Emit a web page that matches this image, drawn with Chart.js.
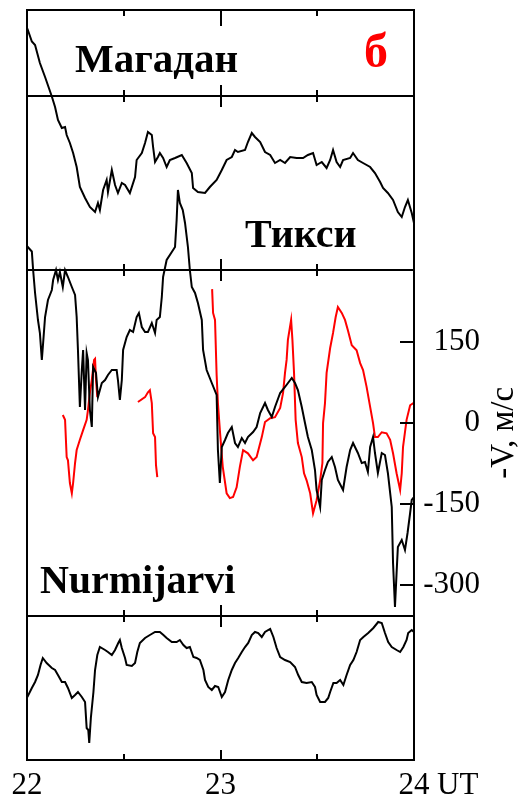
<!DOCTYPE html>
<html>
<head>
<meta charset="utf-8">
<script src="https://cdn.jsdelivr.net/npm/chart.js@4/dist/chart.umd.min.js"></script>
<style>
  html, body { margin: 0; padding: 0; background: #fff; }
  canvas { display: block; }
</style>
</head>
<body>
<canvas id="c" width="524" height="800"></canvas>
<script>
// Time axis: minutes after 22:00 UT
const hourTicks = [0, 60, 120];
const minorTicks = [30, 60, 90];
const velocityTicks = [-300, -150, 0, 150];

// Magnetogram traces (relative level, stacked)
const magadanT = [0.1,1.5,2.5,4.0,5.6,7.7,8.7,9.6,10.8,11.8,12.3,13.3,14.3,15.4,16.4,18.0,19.5,21.1,22.0,22.6,23.6,24.7,25.1,26.3,27.3,28.2,29.4,30.4,31.9,33.5,34.0,35.6,36.6,37.5,38.7,39.1,39.7,40.6,41.2,42.2,43.3,44.3,45.9,48.0,49.5,51.1,51.5,53.0,55.2,56.7,58.8,60.4,61.9,63.5,64.5,65.4,67.6,68.5,69.7,70.7,72.3,73.8,75.4,76.9,78.5,80.0,81.6,83.6,85.6,87.1,88.7,89.8,91.4,92.9,94.0,94.9,96.0,97.1,98.0,100.2,101.1,102.6,104.2,106.4,107.9,109.5,110.4,111.9,113.5,115.0,116.2,117.2,118.1,119.3,120.0];
const magadanH = [146.3,143.7,143.0,139.4,136.6,132.7,130.6,128.0,126.4,126.6,125.0,123.4,121.4,118.6,114.6,112.4,110.6,109.6,111.4,110.0,114.0,116.0,113.6,118.0,115.0,113.4,115.4,115.0,113.4,116.6,120.0,121.4,123.4,125.6,125.0,122.6,119.6,120.6,121.4,120.4,118.6,120.0,120.4,121.0,119.4,117.4,114.4,113.6,113.4,114.6,116.0,118.0,120.0,120.6,122.0,121.6,122.0,123.6,125.4,124.6,123.6,121.6,121.0,119.4,120.0,119.4,120.6,120.4,120.4,121.0,121.4,119.0,119.6,118.4,120.0,122.0,119.6,118.6,120.0,120.4,121.4,120.0,119.4,118.6,117.4,115.6,114.4,113.4,112.0,109.6,108.6,110.6,112.0,109.4,107.4];

const tiksiT = [0.1,1.5,1.9,2.5,3.4,4.0,4.6,5.0,5.6,6.5,7.7,8.1,9.0,9.6,10.2,11.1,11.8,12.7,13.9,14.9,15.4,15.8,16.4,17.0,17.4,18.0,18.5,18.9,19.5,20.1,20.5,21.4,22.0,23.2,24.2,25.1,26.3,27.8,28.2,28.8,29.4,29.8,30.9,31.9,32.9,34.0,34.7,35.6,36.6,37.5,38.7,39.7,40.2,41.2,41.8,42.2,43.3,44.9,45.9,46.4,46.8,47.4,48.3,49.0,49.9,50.5,51.1,52.1,53.0,54.2,54.6,55.7,57.3,58.8,59.2,59.8,60.4,61.4,62.3,63.5,64.5,65.4,66.6,67.6,68.5,70.1,71.2,72.3,73.8,74.7,75.9,76.9,78.5,80.0,82.1,83.1,84.0,85.2,86.2,87.1,88.3,89.3,89.8,90.9,91.4,92.4,93.3,94.5,95.5,96.4,98.0,99.1,100.2,101.1,102.6,103.8,104.8,105.7,106.4,107.3,107.9,108.8,110.0,111.0,111.9,113.1,113.5,114.1,114.6,115.0,116.2,117.2,118.0,118.8,119.3,120.0];
const tiksiH = [102.7,101.7,98.0,93.4,88.0,85.4,80.0,83.4,88.6,92.0,94.0,96.0,98.0,96.0,97.6,94.6,98.0,96.6,94.6,93.0,88.6,82.0,70.6,78.0,82.0,70.0,81.4,80.0,70.0,66.6,78.6,77.4,72.6,75.4,76.0,77.0,78.0,78.0,76.0,72.0,76.0,82.0,84.6,86.0,85.6,88.6,89.4,86.6,85.6,85.6,87.4,85.4,88.0,88.6,92.6,96.6,100.0,101.6,102.6,108.0,114.0,111.4,110.0,107.4,102.6,98.0,94.6,93.4,91.4,88.0,82.0,78.0,75.4,73.0,62.0,55.4,62.6,64.0,65.4,66.6,63.4,62.6,64.4,63.4,64.6,65.6,66.6,69.4,71.4,70.0,68.6,70.6,73.4,74.6,76.4,75.4,74.0,70.6,67.4,64.6,62.0,58.0,54.0,50.6,56.0,58.0,59.6,60.6,58.6,56.0,54.0,58.6,62.0,63.4,61.4,59.4,59.6,57.6,62.6,64.6,61.4,57.4,61.4,61.0,57.4,50.6,39.4,30.6,37.4,42.6,44.0,42.0,45.4,49.4,52.0,52.6];

const nurmijarviT = [0.1,1.5,2.5,3.4,4.2,4.9,6.1,7.7,8.7,9.6,10.8,11.8,12.7,13.9,14.9,15.8,17.0,18.0,18.5,19.0,19.3,19.8,20.6,21.1,21.8,22.6,24.2,25.1,26.3,27.3,28.3,28.8,29.4,30.4,30.9,32.5,33.5,34.2,35.0,36.6,38.1,39.7,41.2,42.3,43.3,44.9,46.4,47.4,48.5,49.5,50.5,51.6,52.6,53.6,54.7,55.2,56.2,57.3,58.3,59.3,60.4,61.4,62.4,63.5,64.5,65.5,66.6,67.6,68.6,69.7,70.7,71.7,72.8,73.8,75.4,76.4,77.4,78.5,80.0,81.6,83.1,84.1,85.2,86.7,88.3,89.3,89.8,90.9,92.4,93.4,94.0,95.0,96.0,97.1,98.1,99.1,100.2,101.2,102.2,103.3,104.3,105.8,107.4,108.9,110.0,111.0,112.0,113.1,114.6,115.7,116.7,117.7,118.2,119.3,120.0];
const nurmijarviH = [12.6,14.4,15.6,17.0,19.0,20.4,19.4,18.4,18.0,17.0,15.6,15.6,14.4,12.4,13.0,13.6,12.6,11.6,6.4,6.0,3.4,8.4,13.6,18.0,21.0,22.6,22.0,21.6,21.0,22.0,23.4,24.0,22.4,20.4,19.0,18.8,19.4,21.6,23.4,24.4,25.0,25.6,25.6,25.0,24.4,23.6,23.6,24.0,23.0,22.4,22.6,20.6,20.4,20.0,18.0,16.0,14.6,14.0,14.8,14.6,12.6,13.6,16.0,18.0,19.4,20.4,21.6,22.6,23.4,25.0,25.6,25.4,24.6,25.6,26.2,24.6,22.4,20.6,20.0,19.6,18.6,17.0,15.6,15.4,15.6,14.6,13.0,11.6,11.6,12.4,13.6,15.4,15.4,16.0,15.0,17.0,19.0,20.0,21.6,24.0,24.6,25.4,26.4,27.6,27.4,25.4,23.6,22.6,22.0,21.6,22.6,24.0,25.4,26.0,25.6];

// Radar drift velocity -V, m/s (null marks a data gap)
const velocityT = [11.1,11.8,12.3,12.7,13.3,13.9,14.3,14.9,15.4,16.4,17.4,18.5,18.9,19.5,20.1,20.8,21.1,21.4,21.8,
  28.0,
  34.4,36.6,37.5,38.1,38.7,39.1,39.7,40.0,40.4,
  49.0,
  57.4,57.7,58.3,58.8,59.2,59.8,60.7,61.9,62.9,63.9,65.0,66.0,67.0,68.5,70.1,71.2,72.8,73.8,75.4,76.9,78.5,79.4,80.0,80.5,80.9,81.9,82.3,82.8,83.3,84.0,85.2,85.9,86.7,87.8,88.7,89.8,90.9,91.6,91.8,92.4,92.9,94.0,94.9,95.7,96.4,97.6,98.6,99.5,100.7,102.2,103.3,104.2,105.3,106.4,107.3,107.9,108.8,110.0,111.5,112.6,113.5,114.6,115.7,116.2,116.6,117.7,118.8,119.8];
const velocityV = [15,6,-63,-69,-111,-130,-111,-74,-50,-31,-13,6,24,56,80,117,119,80,48,
  null,
  39,48,57,61,37,-19,-26,-78,-100,
  null,
  248,204,191,89,37,-13,-81,-130,-139,-137,-119,-81,-50,-56,-69,-63,-26,2,9,11,28,56,93,117,154,191,154,93,6,-37,-63,-93,-106,-130,-167,-143,-106,-74,0,37,93,139,167,196,215,204,191,172,144,135,111,98,67,30,0,-26,-26,-17,-19,-31,-56,-93,-124,-93,-44,6,33,37];

const SERIF = '"Liberation Serif", "Times New Roman", serif';

function points(ts, vs) {
  return ts.map((t, i) => ({ x: t, y: vs[i] }));
}

// Panel separators on the stacked level scale
const panelEdges = [132.8, 98.0, 28.8];

const framePlugin = {
  id: 'frame',
  afterDatasetsDraw(chart) {
    const { ctx, chartArea: a, scales } = chart;
    const xs = scales.x, yh = scales.yH, yv = scales.yV;
    ctx.save();
    ctx.strokeStyle = '#000';
    ctx.lineWidth = 2;
    ctx.lineCap = 'butt';
    // outer box
    ctx.strokeRect(a.left, a.top, a.right - a.left, a.bottom - a.top);
    // panel separators with crossing time ticks
    const seps = panelEdges.map(v => Math.round(yh.getPixelForValue(v)));
    ctx.beginPath();
    seps.forEach(y => {
      ctx.moveTo(a.left, y); ctx.lineTo(a.right, y);
      minorTicks.forEach(m => {
        const x = Math.round(xs.getPixelForValue(m));
        const h = m === 60 ? 11 : 6;
        ctx.moveTo(x, y - h); ctx.lineTo(x, y + h);
      });
    });
    // ticks on the top and bottom edges
    minorTicks.forEach(m => {
      const x = Math.round(xs.getPixelForValue(m));
      const h = m === 60 ? 16 : 6;
      ctx.moveTo(x, a.top); ctx.lineTo(x, a.top + h);
      const hb = m === 60 ? 10 : 6;
      ctx.moveTo(x, a.bottom); ctx.lineTo(x, a.bottom - hb);
    });
    // velocity ticks on the right edge, pointing inward
    velocityTicks.forEach(v => {
      const y = Math.round(yv.getPixelForValue(v));
      ctx.moveTo(a.right - 14, y); ctx.lineTo(a.right, y);
    });
    ctx.stroke();
    ctx.restore();
  },
  afterDraw(chart) {
    const { ctx, chartArea: a, scales } = chart;
    const xs = scales.x, yh = scales.yH, yv = scales.yV;
    ctx.save();
    ctx.fillStyle = '#000';
    ctx.textBaseline = 'alphabetic';
    ctx.textAlign = 'left';
    ctx.font = 'bold 41px ' + SERIF;
    ctx.fillText('Магадан', xs.getPixelForValue(14.9), yh.getPixelForValue(137.6));
    ctx.font = 'bold 40px ' + SERIF;
    ctx.fillText('Тикси', xs.getPixelForValue(67.6), yh.getPixelForValue(102.6));
    ctx.fillText('Nurmijarvi', xs.getPixelForValue(4.0), yh.getPixelForValue(33.4));
    ctx.fillStyle = '#ff0000';
    ctx.font = 'bold 48px ' + SERIF;
    ctx.fillText('б', xs.getPixelForValue(104.5), yh.getPixelForValue(138.6));
    // unit after the last hour label
    ctx.fillStyle = '#000';
    ctx.font = '31px ' + SERIF;
    ctx.textBaseline = 'middle';
    ctx.fillText('UT', a.right + 23, a.bottom + 26);
    // velocity axis title, reading upward
    ctx.save();
    ctx.font = '33px ' + SERIF;
    ctx.translate(a.right + 90, yv.getPixelForValue(-18));
    ctx.rotate(-Math.PI / 2);
    ctx.textAlign = 'center';
    ctx.fillText('-V, м/с', 0, 0);
    ctx.restore();
    ctx.restore();
  }
};

const lineStyle = { borderWidth: 2, pointRadius: 0, tension: 0, fill: false, spanGaps: false };

new Chart(document.getElementById('c'), {
  type: 'line',
  data: {
    datasets: [
      { ...lineStyle, label: 'Магадан', data: points(magadanT, magadanH), borderColor: '#000', yAxisID: 'yH' },
      { ...lineStyle, label: 'Тикси', data: points(tiksiT, tiksiH), borderColor: '#000', yAxisID: 'yH' },
      { ...lineStyle, label: 'Nurmijarvi', data: points(nurmijarviT, nurmijarviH), borderColor: '#000', yAxisID: 'yH' },
      { ...lineStyle, label: '-V', data: points(velocityT, velocityV), borderColor: '#ff0000', yAxisID: 'yV' }
    ]
  },
  options: {
    responsive: false,
    animation: false,
    devicePixelRatio: 1,
    layout: { padding: { left: 27, top: 10, right: 44, bottom: 0 } },
    plugins: { legend: { display: false }, tooltip: { enabled: false } },
    scales: {
      x: {
        type: 'linear', position: 'bottom', min: 0, max: 120,
        grid: { display: false, drawTicks: false },
        border: { display: false },
        afterBuildTicks: s => { s.ticks = hourTicks.map(v => ({ value: v })); },
        afterFit: s => { s.height = 40; s.paddingLeft = 0; s.paddingRight = 0; },
        ticks: {
          maxRotation: 0, autoSkip: false, padding: 7, color: '#000',
          font: { family: SERIF, size: 31 },
          callback: v => String(22 + v / 60)
        }
      },
      yV: {
        type: 'linear', position: 'right', min: -624, max: 765,
        grid: { display: false, drawTicks: false },
        border: { display: false },
        afterBuildTicks: s => { s.ticks = velocityTicks.map(v => ({ value: v })); },
        afterFit: s => { s.width = 66; s.paddingTop = 0; s.paddingBottom = 0; },
        ticks: {
          crossAlign: 'far', padding: 9, color: '#000',
          font: { family: SERIF, size: 31 },
          callback: v => String(v)
        }
      },
      yH: { type: 'linear', display: false, min: 0, max: 150 }
    }
  },
  plugins: [framePlugin]
});
</script>
</body>
</html>
